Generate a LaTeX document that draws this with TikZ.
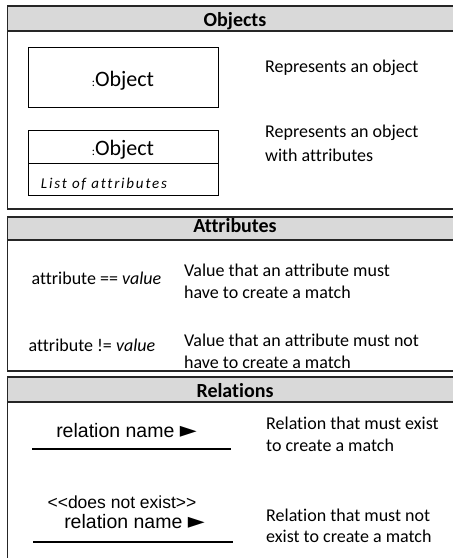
\documentclass[tikz,border=0pt]{standalone}
\usepackage{fontspec}
\setmainfont{Carlito}[Ligatures=NoCommon]
\newfontfamily\arialfont{Liberation Sans}
\newfontfamily\symbolfont{DejaVu Sans}
\definecolor{hdrgray}{HTML}{D9D9D9}
\definecolor{rulegray}{HTML}{262626}
\tikzset{
  panel/.style={draw=rulegray, line width=1.6pt},
  header/.style={panel, fill=hdrgray},
  hdrtext/.style={inner sep=0pt, anchor=base, font=\fontsize{20}{24}\selectfont\bfseries},
  objbox/.style={draw=black, line width=1pt, inner sep=0pt, minimum width=190pt},
  % descriptions are placed by the baseline of their last line
  desc/.style={inner sep=0pt, anchor=base west, align=left, font=\fontsize{18}{#1}\selectfont},
  desc/.default=22,
  lefttext/.style={inner sep=0pt, anchor=base, font=\fontsize{18}{22}\selectfont},
  reltext/.style={inner sep=0pt, anchor=base, font=\arialfont\fontsize{#1}{21}\selectfont},
  reltext/.default=17.5,
  relline/.style={draw=black, line width=2.6pt},
}
\newcommand{\objlabel}{{\fontsize{12}{12}\selectfont:}Object}
\newcommand{\relarrow}{{\symbolfont\fontsize{22}{22}\selectfont\char"25BA}}
\begin{document}
\begin{tikzpicture}[x=1pt,y=-1pt]
\clip (0,0) rectangle (453,558);
\fill[white] (0,0) rectangle (453,558);

% ---- Objects panel
\draw[panel] (7.5,31) rectangle (470,209);
\draw[header] (7.5,6) rectangle (470,31);
\node[hdrtext] (hobj) at (235,26) {Objects};

\node[objbox, minimum height=60pt] (obj1) at (123,77) {};
\node[inner sep=0pt, anchor=base, font=\fontsize{22}{26}\selectfont] (obj1lbl) at (123,86.5) {\objlabel};
\node[desc] (obj1desc) at (265,72) {Represents an object};

\node[objbox, minimum height=33pt] (obj2) at (123,146.5) {};
\node[objbox, minimum height=32pt] (obj2attr) at (123,179) {};
\node[inner sep=0pt, anchor=base, font=\fontsize{22}{26}\selectfont] (obj2lbl) at (123,155) {\objlabel};
\node[inner sep=0pt, anchor=base, font=\fontsize{15}{17}\selectfont\itshape\addfontfeature{LetterSpace=12}] (obj2list) at (104,188) {List of attributes};
\node[desc=24] (obj2desc) at (265,161) {Represents an object\\with attributes};

% ---- Attributes panel
\draw[panel] (7.5,240) rectangle (470,371);
\draw[header] (7.5,217) rectangle (470,240);
\node[hdrtext] (hattr) at (235,232) {Attributes};

\node[lefttext] (attreq) at (96.5,284) {attribute == \textit{value}};
\node[desc] (attreqdesc) at (184,298) {Value that an attribute must\\have to create a match};

\node[lefttext] (attrne) at (92,351) {attribute != \textit{value}};
\node[desc] (attrnedesc) at (184,368) {Value that an attribute must not\\have to create a match};

% ---- Relations panel
\draw[panel] (7.5,402) rectangle (470,570);
\draw[header] (7.5,377) rectangle (470,402);
\node[hdrtext] (hrel) at (235,397) {Relations};

\node[reltext=19.5] (rel1lbl) at (126.5,437) {relation name \relarrow};
\coordinate (rel1a) at (32,449);
\coordinate (rel1b) at (231,449);
\draw[relline] (rel1a) -- (rel1b);
\node[desc] (rel1desc) at (266,451) {Relation that must exist\\to create a match};

\node[reltext] (rel2st) at (122,508.5) {<{}<does not exist>{}>};
\node[reltext=19.5] (rel2lbl) at (134.5,528.5) {relation name \relarrow};
\coordinate (rel2a) at (33,542);
\coordinate (rel2b) at (233,542);
\draw[relline] (rel2a) -- (rel2b);
\node[desc=21] (rel2desc) at (266,542) {Relation that must not\\exist to create a match};
\end{tikzpicture}
\end{document}
